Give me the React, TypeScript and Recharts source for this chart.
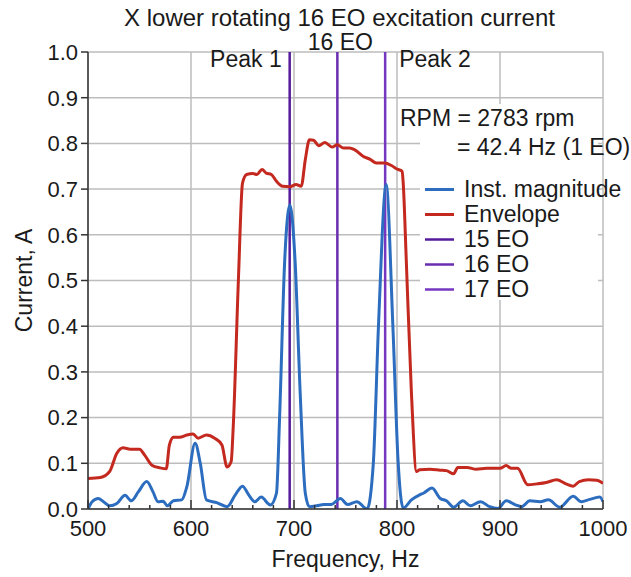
import { LineChart, Line, XAxis, YAxis, CartesianGrid, ReferenceLine, Legend } from 'recharts';

const FONT = '"Liberation Sans", Arial, Helvetica, sans-serif';
const INK = '#1a1a1a';

// Envelope (red)
const envFreq = [500, 512, 521, 528, 534, 541, 550, 555, 562, 570, 576, 579, 583, 589, 596, 602, 607, 615, 623, 630, 635, 639, 641, 646, 650, 654, 660, 664, 669, 673, 678, 683, 689, 696, 702, 707, 711, 715, 719, 724, 730, 737, 742, 748, 754, 759, 767, 774, 780, 788, 795, 800, 805, 806, 809, 814, 819, 822, 832, 842, 848, 855, 859, 868, 877, 887, 900, 906, 911, 917, 927, 936, 945, 955, 964, 971, 977, 986, 994, 1000];
const envAmp = [0.067, 0.069, 0.082, 0.122, 0.134, 0.131, 0.131, 0.118, 0.096, 0.09, 0.088, 0.14, 0.157, 0.157, 0.162, 0.164, 0.155, 0.162, 0.155, 0.14, 0.092, 0.104, 0.18, 0.5, 0.713, 0.732, 0.734, 0.732, 0.743, 0.735, 0.732, 0.717, 0.706, 0.705, 0.71, 0.706, 0.765, 0.808, 0.807, 0.795, 0.802, 0.792, 0.797, 0.79, 0.79, 0.786, 0.772, 0.765, 0.757, 0.757, 0.751, 0.744, 0.739, 0.714, 0.545, 0.254, 0.082, 0.086, 0.087, 0.085, 0.084, 0.077, 0.091, 0.091, 0.087, 0.089, 0.089, 0.095, 0.089, 0.089, 0.053, 0.055, 0.058, 0.064, 0.055, 0.05, 0.06, 0.064, 0.063, 0.056];

// Inst. magnitude (blue)
const instFreq = [500, 504, 510, 515, 521, 528, 536, 542, 549, 557, 563, 568, 573, 577, 583, 591, 596, 604, 609, 615, 625, 635, 643, 650, 656, 662, 668, 677, 683, 686, 691, 696, 701, 706, 711, 715, 722, 729, 736, 745, 752, 761, 771, 777, 782, 789.5, 796, 801, 806, 814, 822, 826, 834, 842, 848, 855, 864, 871, 881, 890, 898, 906, 915, 921, 929, 939, 947, 958, 971, 979, 987, 997, 1000];
const instAmp = [0, 0.016, 0.023, 0.016, 0.007, 0.012, 0.03, 0.018, 0.038, 0.06, 0.038, 0.016, 0.017, 0.007, 0.018, 0.02, 0.049, 0.144, 0.1, 0.02, 0.014, 0.005, 0.031, 0.05, 0.031, 0.016, 0.026, 0.009, 0.035, 0.2, 0.545, 0.665, 0.545, 0.254, 0.034, 0.005, 0.007, 0.01, 0.01, 0.023, 0.01, 0.016, 0, 0.1, 0.4, 0.71, 0.4, 0.107, 0.002, 0.02, 0.031, 0.035, 0.046, 0.023, 0.018, 0.004, 0.018, 0.007, 0.016, 0.005, 0.001, 0.018, 0.009, 0.005, 0.018, 0.016, 0.02, 0.004, 0.028, 0.016, 0.021, 0.026, 0.016];

// engine-order lines (RPM = 2783)
const eoFreq = [695.8, 742.1, 788.5];
const eoNames = ['15 EO', '16 EO', '17 EO'];
const eoColors = ['#561b9c', '#6a2cb0', '#7637c0'];
const eoLabels = ['Peak 1', '16 EO', 'Peak 2'];

const xTicks = [500, 520, 540, 560, 580, 600, 620, 640, 660, 680, 700, 720, 740, 760, 780, 800, 820, 840, 860, 880, 900, 920, 940, 960, 980, 1000];
const xMajor = [500, 600, 700, 800, 900, 1000];
const yTicks = [0, 0.1, 0.2, 0.3, 0.4, 0.5, 0.6, 0.7, 0.8, 0.9, 1.0];

const BLUE = '#2c6dbf';
const RED = '#c4291f';

const envData = envFreq.map((f, i) => ({ f, v: envAmp[i] }));
const instData = instFreq.map((f, i) => ({ f, v: instAmp[i] }));

const legendRows = [
  { name: 'Inst. magnitude', color: BLUE, w: 3 },
  { name: 'Envelope', color: RED, w: 3 },
  ...eoNames.map((name, i) => ({ name, color: eoColors[i], w: 2.5 })),
];

function FreqTick(props: any) {
  const { x, y, payload } = props;
  const major = payload.value % 100 === 0;
  return (
    <g>
      <line x1={x} x2={x} y1={y} y2={y - (major ? 9 : 4)} stroke="#333" strokeWidth={1.5} />
      {major && (
        <text x={x} y={y + 27} textAnchor="middle" fontSize={22} fill={INK} fontFamily={FONT}>
          {payload.value}
        </text>
      )}
    </g>
  );
}

function eoLabel(i: number) {
  return (p: any) => {
    const { x, y } = p.viewBox;
    if (i === 0)
      return <text x={x - 8} y={y + 14.5} textAnchor="end" fontSize={23} fill={INK} fontFamily={FONT}>{eoLabels[i]}</text>;
    if (i === 1)
      return <text x={x + 3} y={y - 2.5} textAnchor="middle" fontSize={23} fill={INK} fontFamily={FONT}>{eoLabels[i]}</text>;
    return <text x={x + 14} y={y + 14.5} textAnchor="start" fontSize={23} fill={INK} fontFamily={FONT}>{eoLabels[i]}</text>;
  };
}

function LegendBox() {
  const line = (top: number, left: number, text: string) => (
    <div style={{ position: 'absolute', top, left, lineHeight: '25px', whiteSpace: 'nowrap' }}>{text}</div>
  );
  return (
    <div style={{ position: 'relative', width: '100%', height: '100%', fontFamily: FONT, fontSize: 23, color: INK }}>
      {line(1.5, -20, 'RPM = 2783 rpm')}
      {line(30.5, 37, '= 42.4 Hz (1 EO)')}
      {legendRows.map((r, i) => (
        <div key={r.name} style={{ position: 'absolute', top: 72.5 + i * 25.1, left: 0, height: 25, whiteSpace: 'nowrap' }}>
          <svg width={40} height={25} style={{ position: 'absolute', left: 4, top: 0 }}>
            <line x1={1} x2={30} y1={12.5} y2={12.5} stroke={r.color} strokeWidth={r.w} />
          </svg>
          <span style={{ position: 'absolute', left: 44, top: 0, lineHeight: '25px' }}>{r.name}</span>
        </div>
      ))}
    </div>
  );
}

export default function App() {
  return (
    <div style={{ position: 'relative', width: 631, height: 577, background: '#fff' }}>
      <style>{'body{margin:0}'}</style>
      <LineChart width={631} height={577} margin={{ top: 52, right: 28, left: 28, bottom: 28 }}>
        <CartesianGrid stroke="#bdbdbd" strokeWidth={1.5} verticalValues={xMajor} horizontalValues={yTicks} />
        <XAxis
          dataKey="f"
          type="number"
          domain={[500, 1000]}
          ticks={xTicks}
          interval={0}
          height={40}
          tickLine={false}
          tickSize={0}
          tickMargin={0}
          tick={<FreqTick />}
          axisLine={{ stroke: '#333', strokeWidth: 1.5 }}
          allowDataOverflow
          label={(p: any) => {
            const { x, y, width } = p.viewBox;
            return (
              <text x={x + width / 2} y={y + 58} textAnchor="middle" fontSize={23} fill={INK} fontFamily={FONT}>
                Frequency, Hz
              </text>
            );
          }}
        />
        <YAxis
          type="number"
          domain={[0, 1]}
          ticks={yTicks}
          interval={0}
          width={60}
          tickSize={7}
          tickMargin={3}
          tickFormatter={(v: number) => v.toFixed(1)}
          tick={{ fontSize: 22, fill: INK, fontFamily: FONT }}
          tickLine={{ stroke: '#333', strokeWidth: 1.5 }}
          axisLine={{ stroke: '#333', strokeWidth: 1.5 }}
          allowDataOverflow
          label={(p: any) => {
            const { x, y, height } = p.viewBox;
            const cx = x + 4;
            const cy = y + height / 2;
            return (
              <text x={cx} y={cy} transform={`rotate(-90, ${cx}, ${cy})`} textAnchor="middle" fontSize={23} fill={INK} fontFamily={FONT}>
                Current, A
              </text>
            );
          }}
        />
        {eoFreq.map((f, i) => (
          <ReferenceLine key={eoNames[i]} x={f} stroke={eoColors[i]} strokeWidth={2.5} label={eoLabel(i)} />
        ))}
        <Line data={envData} dataKey="v" name="Envelope" type="monotone" stroke={RED} strokeWidth={3} dot={false} isAnimationActive={false} />
        <Line data={instData} dataKey="v" name="Inst. magnitude" type="monotone" stroke={BLUE} strokeWidth={3} dot={false} isAnimationActive={false} />
        <Legend
          layout="horizontal"
          verticalAlign="middle"
          align="center"
          content={() => <LegendBox />}
          wrapperStyle={{ left: 420, top: 104, width: 178, height: 196, backgroundColor: '#fff' }}
        />
      </LineChart>
      <div
        style={{
          position: 'absolute',
          left: 0,
          top: 6,
          width: 679,
          textAlign: 'center',
          fontFamily: FONT,
          fontSize: 24,
          lineHeight: '24px',
          color: INK,
          whiteSpace: 'nowrap',
        }}
      >
        X lower rotating 16 EO excitation current
      </div>
    </div>
  );
}
